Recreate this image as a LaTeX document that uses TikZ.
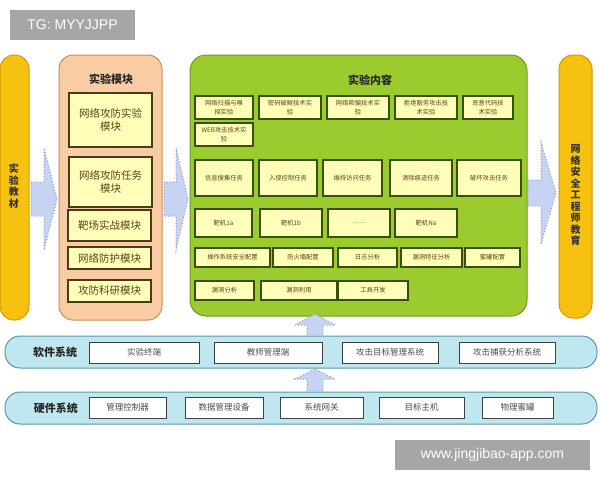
\documentclass[tikz,border=0pt]{standalone}
\usepackage{fontspec}
\newfontfamily\cjk{Noto Sans CJK SC}
\newfontfamily\wmfont{Liberation Sans}
\definecolor{pillar}{HTML}{F6C10F}
\definecolor{pillarb}{HTML}{D49A00}
\definecolor{peach}{HTML}{F9CCA4}
\definecolor{peachb}{HTML}{D08A58}
\definecolor{lemon}{HTML}{FFFFBA}
\definecolor{brownb}{HTML}{4A3A1A}
\definecolor{leaf}{HTML}{9BCB2E}
\definecolor{leafb}{HTML}{6E9A1C}
\definecolor{darkleaf}{HTML}{35520A}
\definecolor{cyanbar}{HTML}{BFE7EF}
\definecolor{cyanb}{HTML}{5E95A5}
\definecolor{arrowfill}{HTML}{C7D3F2}
\definecolor{arrowb}{HTML}{8C9CC4}
\definecolor{wm}{HTML}{A6A6A6}
\definecolor{txt}{HTML}{5C4418}
\newcommand\pbox[7]{\node[#2, minimum width={(#5)-(#3)}, minimum height={(#6)-(#4)}] (#1) at ({((#3)+(#5))/2},{((#4)+(#6))/2}) {#7};}
\begin{document}
\begin{tikzpicture}[x=1pt,y=-1pt,
  base/.style={inner sep=0pt, outer sep=0pt, align=center},
  pillarbox/.style={base, draw=pillarb, line width=1pt, fill=pillar, rounded corners=14pt},
  orangebox/.style={base, draw=peachb, line width=1pt, fill=peach, rounded corners=14pt},
  greenbox/.style={base, draw=leafb, line width=1pt, fill=leaf, rounded corners=16pt},
  obox/.style={base, draw=brownb, line width=1.3pt, fill=lemon, text=txt, font=\cjk\fontsize{10.5}{13}\selectfont},
  gbox/.style={base, draw=darkleaf, line width=1.3pt, fill=lemon, text=txt, font=\cjk\fontsize{6.3}{8.2}\selectfont},
  bar/.style={base, draw=cyanb, line width=1pt, fill=cyanbar, rounded corners=15pt},
  wbox/.style={base, draw=black!75, line width=1pt, fill=white, text=black!70, font=\cjk\fontsize{8.5}{10}\selectfont},
  title/.style={font=\cjk\bfseries\fontsize{11}{13}\selectfont, text=black!85},
  vtext/.style={align=center, inner sep=0pt, text=black!80, font=\cjk\bfseries\fontsize{10}{11.5}\selectfont},
  blockarrow/.style={fill=arrowfill, draw=arrowb, dotted, line width=1pt},
  wmbox/.style={base, fill=wm, text=white, font=\wmfont\fontsize{14}{16}\selectfont}
]
\useasboundingbox (0,0) rectangle (600,480);

% watermark boxes
\pbox{tg}{wmbox}{10}{10}{135}{40}{TG: MYYJJPP}
\pbox{url}{wmbox}{395}{440}{590}{470}{www.jingjibao-app.com}

% pillars
\pbox{lp}{pillarbox}{0}{55}{29}{320}{}
\node[vtext] (lpt) at (14,186) {实\\验\\教\\材};
\pbox{rp}{pillarbox}{559}{55}{592}{318}{}
\node[vtext] (rpt) at (575.5,195) {网\\络\\安\\全\\工\\程\\师\\教\\育};

% orange box
\pbox{ob}{orangebox}{59}{55}{162}{320}{}
\node[title] (obt) at (111,79) {实验模块};
\pbox{o1}{obox}{69}{93}{152}{147}{网络攻防实验\\模块}
\pbox{o2}{obox}{69}{157}{152}{207}{网络攻防任务\\模块}
\pbox{o3}{obox}{68}{210}{151}{241}{靶场实战模块}
\pbox{o4}{obox}{68}{247}{151}{269}{网络防护模块}
\pbox{o5}{obox}{68}{280}{151}{302}{攻防科研模块}

% green box
\pbox{gb}{greenbox}{190}{55}{527}{316}{}
\node[title] (gbt) at (370,80) {实验内容};
\pbox{g11}{gbox}{195}{96}{253}{119}{网络扫描与嗅\\探实验}
\pbox{g12}{gbox}{259}{96}{321}{119}{密码破解技术实\\验}
\pbox{g13}{gbox}{327}{96}{389}{119}{网络欺骗技术实\\验}
\pbox{g14}{gbox}{395}{96}{457}{119}{拒绝服务攻击技\\术实验}
\pbox{g15}{gbox}{463}{96}{513}{119}{恶意代码技\\术实验}
\pbox{g16}{gbox}{195}{123}{253}{146}{WEB攻击技术实\\验}
\pbox{g21}{gbox}{195}{160}{253}{196}{信息搜集任务}
\pbox{g22}{gbox}{259}{160}{317}{196}{入侵控制任务}
\pbox{g23}{gbox}{323}{160}{382}{196}{维持访问任务}
\pbox{g24}{gbox}{390}{160}{452}{196}{清除痕迹任务}
\pbox{g25}{gbox}{457}{160}{521}{196}{破坏攻击任务}
\pbox{g31}{gbox}{195}{209}{252}{237}{靶机1a}
\pbox{g32}{gbox}{260}{209}{322}{237}{靶机1b}
\pbox{g33}{gbox}{328}{209}{390}{237}{……}
\pbox{g34}{gbox}{395}{209}{457}{237}{靶机Na}
\pbox{g41}{gbox}{195}{248}{270}{267}{操作系统安全配置}
\pbox{g42}{gbox}{273}{248}{333}{267}{防火墙配置}
\pbox{g43}{gbox}{338}{248}{397}{267}{日志分析}
\pbox{g44}{gbox}{401}{248}{462}{267}{漏洞特征分析}
\pbox{g45}{gbox}{465}{248}{520}{267}{蜜罐配置}
\pbox{g51}{gbox}{195}{281}{254}{300}{漏洞分析}
\pbox{g52}{gbox}{261}{281}{337}{300}{漏洞利用}
\pbox{g53}{gbox}{338}{281}{408}{300}{工具开发}

% bars
\pbox{sw}{bar}{5}{336}{597}{368}{}
\node[title] (swt) at (55,352) {软件系统};
\pbox{s1}{wbox}{89}{342}{199}{363}{实验终端}
\pbox{s2}{wbox}{214}{342}{322}{363}{教师管理端}
\pbox{s3}{wbox}{342}{342}{438}{363}{攻击目标管理系统}
\pbox{s4}{wbox}{459}{342}{555}{363}{攻击捕获分析系统}

\pbox{hw}{bar}{5}{392}{597}{424}{}
\node[title] (hwt) at (56,408) {硬件系统};
\pbox{h1}{wbox}{89}{397}{166}{418}{管理控制器}
\pbox{h2}{wbox}{185}{397}{263}{418}{数据管理设备}
\pbox{h3}{wbox}{280}{397}{363}{418}{系统网关}
\pbox{h4}{wbox}{379}{397}{464}{418}{目标主机}
\pbox{h5}{wbox}{482}{397}{553}{418}{物理蜜罐}

% block arrows (right-pointing)
\draw[blockarrow] (31,182) -- (44,182) -- (44,148) -- (57,199) -- (44,250) -- (44,216) -- (31,216) -- cycle;
\draw[blockarrow] (164,182) -- (176,182) -- (176,148) -- (188,199) -- (176,250) -- (176,216) -- (164,216) -- cycle;
\draw[blockarrow] (528,180) -- (541,180) -- (541,142) -- (556,193) -- (541,244) -- (541,206) -- (528,206) -- cycle;
% block arrows (up-pointing)
\draw[blockarrow] (307,335) -- (307,325) -- (295,325) -- (315,314) -- (335,325) -- (323,325) -- (323,335) -- cycle;
\draw[blockarrow] (307,391) -- (307,379) -- (295,379) -- (315,369) -- (335,379) -- (323,379) -- (323,391) -- cycle;
\end{tikzpicture}
\end{document}
